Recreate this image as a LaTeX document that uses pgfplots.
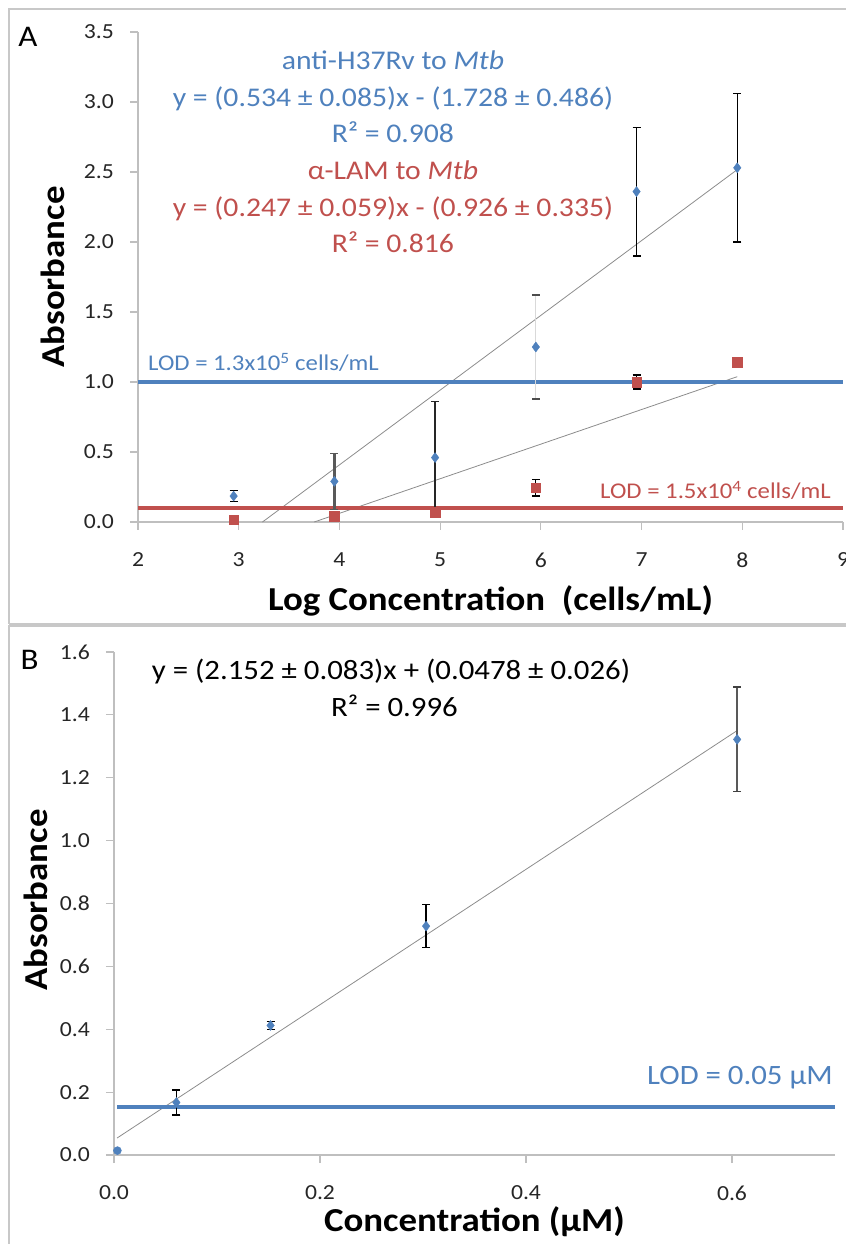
\documentclass[border=0pt]{standalone}
\usepackage{pgfplots}
\pgfplotsset{compat=1.18}
\usepackage{pgfplotstable}
\usepackage{fontspec}
\setmainfont{Carlito}[FakeStretch=1.1]
\definecolor{xlblue}{HTML}{4F81BD}
\definecolor{xlred}{HTML}{C0504D}
\definecolor{axgray}{HTML}{BFBFBF}
\definecolor{trend}{HTML}{8C8C8C}
\definecolor{frame}{HTML}{C8C8C8}

% Panel A data: x  y  err
\pgfplotstableread{
x y e
2.95 0.185 0.04
6.95 2.36 0.46
7.95 2.53 0.53
}\blueAthin
\pgfplotstableread{
x y e
3.95 0.29 0.20
}\blueAthick
\pgfplotstableread{
x y e
4.95 0.46 0.40
}\blueAmid
\pgfplotstableread{
x y e
5.95 1.25 0.37
}\blueAlight
\pgfplotstableread{
x y e
5.95 0.245 0.06
6.95 1.00 0.05
}\redAerr
\pgfplotstableread{
x y
2.95 0.016
3.95 0.04
4.95 0.07
7.95 1.14
}\redAnoerr
% Panel B data
\pgfplotstableread{
x y e
0.0606 0.167 0.04
0.152 0.412 0.012
0.303 0.728 0.068
}\blueBthin
\pgfplotstableread{
x y e
0.605 1.322 0.166
}\blueBthick
\pgfplotstableread{
x y
0.0033 0.014
}\blueBnoerr

\pgfplotsset{
 xlstyle/.style={
  scale only axis,
  axis lines*=left,
  axis line style={axgray, line width=1.2bp},
  tick style={axgray, line width=1.2bp},
  tick align=outside,
  major tick length=8bp,
  tick label style={font=\fontsize{21.5bp}{24bp}\selectfont, text=black!85},
  /pgf/number format/assume math mode=true,
  yticklabel style={anchor=east, inner sep=0pt, xshift=-16bp},
  xticklabel style={anchor=center, inner sep=0pt, yshift=-30bp},
  label style={font=\bfseries\fontsize{33.5bp}{36bp}\selectfont},
  clip=false,
 },
 errb/.style n args={4}{
  error bars/y dir=both, error bars/y explicit,
  error bars/error bar style={#1, line width=#2},
  error bars/error mark options={rotate=90, mark size=4bp, #3, line width=#4},
 },
 bmark/.style={only marks, mark=diamond*, mark size=5bp, color=xlblue},
}

\begin{document}
\begin{tikzpicture}
% ---------------- Panel A ----------------
\begin{axis}[xlstyle,
  at={(138bp,722bp)}, anchor=south west,
  width=705bp, height=490bp,
  xmin=2, xmax=9, ymin=0, ymax=3.5,
  xtick={2,3,...,9},
  ytick={0,0.5,...,3.5},
  yticklabel style={/pgf/number format/.cd, fixed, fixed zerofill, precision=1},
  xlabel={Log Concentration\ \ (cells/mL)},
  ylabel={Absorbance},
  xlabel style={at={(axis description cs:0.5,-0.162)}, anchor=center},
  ylabel style={at={(axis description cs:-0.121,0.50)}, anchor=center},
]
% trend lines
\addplot[trend, line width=0.8bp] coordinates {(3.236,0) (7.95,2.517)};
\addplot[trend, line width=0.8bp] coordinates {(3.75,0) (7.95,1.038)};
% LOD lines
\addplot[xlblue, line width=4.5bp] coordinates {(2,1.0) (9,1.0)};
\addplot[xlred, line width=4.5bp] coordinates {(2,0.10) (9,0.10)};
% blue points
\addplot[bmark, errb={black}{1.2bp}{black}{1.2bp}]
  table[x=x, y=y, y error=e] {\blueAthin};
\addplot[bmark, errb={black!65}{3bp}{black!65}{1.5bp}]
  table[x=x, y=y, y error=e] {\blueAthick};
\addplot[bmark, errb={black!85}{2bp}{black!85}{1.5bp}]
  table[x=x, y=y, y error=e] {\blueAmid};
\addplot[bmark, errb={black!15}{1bp}{black!70}{1.5bp}]
  table[x=x, y=y, y error=e] {\blueAlight};
% red points
\addplot[only marks, mark=square*, mark size=4.8bp, color=xlred,
  errb={black}{1.2bp}{black}{1.2bp}]
  table[x=x, y=y, y error=e] {\redAerr};
\addplot[only marks, mark=square*, mark size=4.8bp, color=xlred]
  table[x=x, y=y] {\redAnoerr};
\end{axis}

% ---------------- Panel B ----------------
\begin{axis}[xlstyle,
  at={(114bp,89bp)}, anchor=south west,
  width=721bp, height=503bp,
  xmin=0, xmax=0.7, ymin=0, ymax=1.6,
  xtick={0,0.2,0.4,0.6},
  ytick={0,0.2,...,1.6},
  xticklabel style={/pgf/number format/.cd, fixed, fixed zerofill, precision=1},
  yticklabel style={/pgf/number format/.cd, fixed, fixed zerofill, precision=1},
  xlabel={Concentration (µM)},
  ylabel={Absorbance},
  xlabel style={at={(axis description cs:0.5,-0.133)}, anchor=center},
  ylabel style={at={(axis description cs:-0.108,0.507)}, anchor=center},
]
\addplot[trend, line width=0.8bp] coordinates {(0.003,0.054) (0.605,1.350)};
\addplot[xlblue, line width=4.5bp] coordinates {(0.003,0.152) (0.7,0.152)};
\addplot[bmark, errb={black}{1.2bp}{black}{1.2bp}]
  table[x=x, y=y, y error=e] {\blueBthin};
\addplot[bmark, errb={black!65}{2.5bp}{black!75}{1.5bp}]
  table[x=x, y=y, y error=e] {\blueBthick};
\addplot[only marks, mark=*, mark size=4bp, color=xlblue]
  table[x=x, y=y] {\blueBnoerr};
\end{axis}

% ---------------- Frames and texts ----------------
\begin{scope}[x=1bp, y=1bp]
\draw[frame, line width=2bp] (8.5,-5) -- (8.5,617.5) -- (850,617.5);
\draw[frame, line width=2bp] (8.5,620) -- (8.5,1235) -- (850,1235);
\draw[frame, line width=2bp] (8.5,620) -- (850,620);
\begin{scope}[every node/.style={inner sep=0pt}]
\node[anchor=base, font=\fontsize{30bp}{32bp}\selectfont] at (28,1197) {A};
\node[anchor=base, font=\fontsize{30bp}{32bp}\selectfont] at (29.5,574.5) {B};

\node[anchor=base, text=xlblue, font=\fontsize{27bp}{30bp}\selectfont] at (393,1174) {anti-H37Rv to \textit{Mtb}};
\node[anchor=base, text=xlblue, font=\fontsize{27bp}{30bp}\selectfont] at (393,1137.5) {y = (0.534 ± 0.085)x - (1.728 ± 0.486)};
\node[anchor=base, text=xlblue, font=\fontsize{27bp}{30bp}\selectfont] at (393,1101.5) {R² = 0.908};
\node[anchor=base, text=xlred, font=\fontsize{27bp}{30bp}\selectfont] at (393,1064) {α-LAM to \textit{Mtb}};
\node[anchor=base, text=xlred, font=\fontsize{27bp}{30bp}\selectfont] at (393,1027) {y = (0.247 ± 0.059)x - (0.926 ± 0.335)};
\node[anchor=base, text=xlred, font=\fontsize{27bp}{30bp}\selectfont] at (393,991.5) {R² = 0.816};

\node[anchor=base west, text=xlblue, font=\fontsize{22.5bp}{25bp}\selectfont] at (148,873.3) {LOD = 1.3x10\textsuperscript{5} cells/mL};
\node[anchor=base east, text=xlred, font=\fontsize{22.5bp}{25bp}\selectfont] at (831,745) {LOD = 1.5x10\textsuperscript{4} cells/mL};

\node[anchor=base, text=black, font=\fontsize{28bp}{30bp}\selectfont] at (391,564) {y = (2.152 ± 0.083)x + (0.0478 ± 0.026)};
\node[anchor=base, text=black, font=\fontsize{28bp}{30bp}\selectfont] at (394.5,527.7) {R² = 0.996};
\node[anchor=base east, text=xlblue, font=\fontsize{28bp}{30bp}\selectfont] at (833,159) {LOD = 0.05 µM};
\end{scope}
\pgfresetboundingbox
\path[use as bounding box] (0,0) rectangle (846,1244);
\end{scope}
\end{tikzpicture}
\end{document}
